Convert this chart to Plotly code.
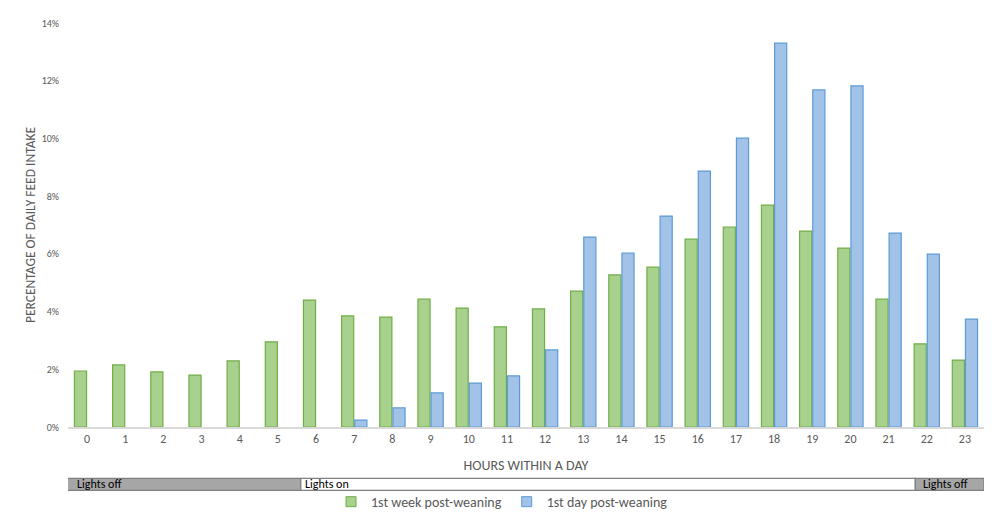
import plotly.graph_objects as go

hours = list(range(24))
hour_labels = [str(h) for h in hours]
week_post_weaning = [1.94, 2.15, 1.91, 1.80, 2.29, 2.95, 4.40, 3.85, 3.81, 4.43, 4.12, 3.47,
                     4.09, 4.71, 5.27, 5.54, 6.51, 6.93, 7.69, 6.79, 6.20, 4.43, 2.88, 2.32]
day_post_weaning = [None, None, None, None, None, None, None, 0.24, 0.66, 1.18, 1.52, 1.77,
                    2.67, 6.58, 6.03, 7.31, 8.87, 10.01, 13.30, 11.68, 11.82, 6.72, 5.99, 3.74]
y_ticks = [0, 2, 4, 6, 8, 10, 12, 14]
y_tick_labels = ["0%", "2%", "4%", "6%", "8%", "10%", "12%", "14%"]

lights_labels = ["Lights off", "Lights on", "Lights off"]
lights_start = [-0.58, 5.6, 21.7]
lights_end = [5.6, 21.7, 23.5]
lights_fill = ["#a6a6a6", "#ffffff", "#a6a6a6"]
lights_text_shift = [6, -2, 2]

FONT = "Carlito, Lato, 'Liberation Sans', sans-serif"
GREY = "#595959"
GREEN_FILL, GREEN_LINE = "#a9d18e", "#70ad47"
BLUE_FILL, BLUE_LINE = "#a2c2e8", "#5b9bd5"

fig = go.Figure()
fig.add_trace(go.Bar(
    x=hours, y=week_post_weaning, name="1st week post-weaning", showlegend=False,
    marker=dict(color=GREEN_FILL, line=dict(color=GREEN_LINE, width=1.2)),
))
fig.add_trace(go.Bar(
    x=hours, y=day_post_weaning, name="1st day post-weaning", showlegend=False,
    marker=dict(color=BLUE_FILL, line=dict(color=BLUE_LINE, width=1.2)),
))
# legend entries with small square swatches
for name, fc, lc in [("1st week post-weaning", GREEN_FILL, GREEN_LINE),
                     ("1st day post-weaning", BLUE_FILL, BLUE_LINE)]:
    fig.add_trace(go.Scatter(
        x=[None], y=[None], mode="markers", name=name,
        marker=dict(symbol="square", size=10, color=fc, line=dict(color=lc, width=1)),
    ))

bar_y0, bar_y1 = -0.157, -0.127
for lab, s, e, c, sh in zip(lights_labels, lights_start, lights_end, lights_fill, lights_text_shift):
    fig.add_shape(type="rect", xref="x", yref="paper", x0=s, x1=e,
                  y0=bar_y0, y1=bar_y1, fillcolor=c,
                  line=dict(color="#7f7f7f", width=1.2), layer="above")
    fig.add_annotation(x=s + 0.1, y=(bar_y0 + bar_y1) / 2, xref="x", yref="paper",
                       text=lab, showarrow=False, xanchor="left", yanchor="middle",
                       xshift=sh, font=dict(family=FONT, size=12, color="#000000"))

fig.update_layout(
    width=1000, height=512,
    margin=dict(l=60, r=24, t=15, b=93, autoexpand=False),
    paper_bgcolor="white", plot_bgcolor="white",
    barmode="group", bargap=0.31, bargroupgap=0.08,
    font=dict(family=FONT, color=GREY),
    showlegend=True,
    legend=dict(orientation="h", x=0.494, xanchor="center", xref="container",
                y=0.035, yanchor="middle", yref="container",
                bgcolor="rgba(0,0,0,0)",
                font=dict(family=FONT, size=14, color=GREY),
                itemwidth=30, traceorder="normal", tracegroupgap=0),
    xaxis=dict(
        tickmode="array", tickvals=hours, ticktext=hour_labels,
        range=[-0.5, 23.5], showgrid=False, zeroline=False, automargin=False,
        showline=True, linecolor="#d9d9d9", linewidth=1.5, ticks="",
        tickfont=dict(family=FONT, size=12, color=GREY),
        title=dict(text="HOURS WITHIN A DAY", standoff=15,
                   font=dict(family=FONT, size=14, color=GREY)),
    ),
    yaxis=dict(
        tickmode="array", tickvals=y_ticks, ticktext=y_tick_labels,
        range=[0, 14], showgrid=False, zeroline=False, showline=False, automargin=False,
        tickfont=dict(family=FONT, size=10, color=GREY), ticklabelstandoff=8,
        title=dict(text="PERCENTAGE OF DAILY FEED INTAKE", standoff=2,
                   font=dict(family=FONT, size=13.5, color=GREY)),
    ),
)

fig.write_html("out.html")
